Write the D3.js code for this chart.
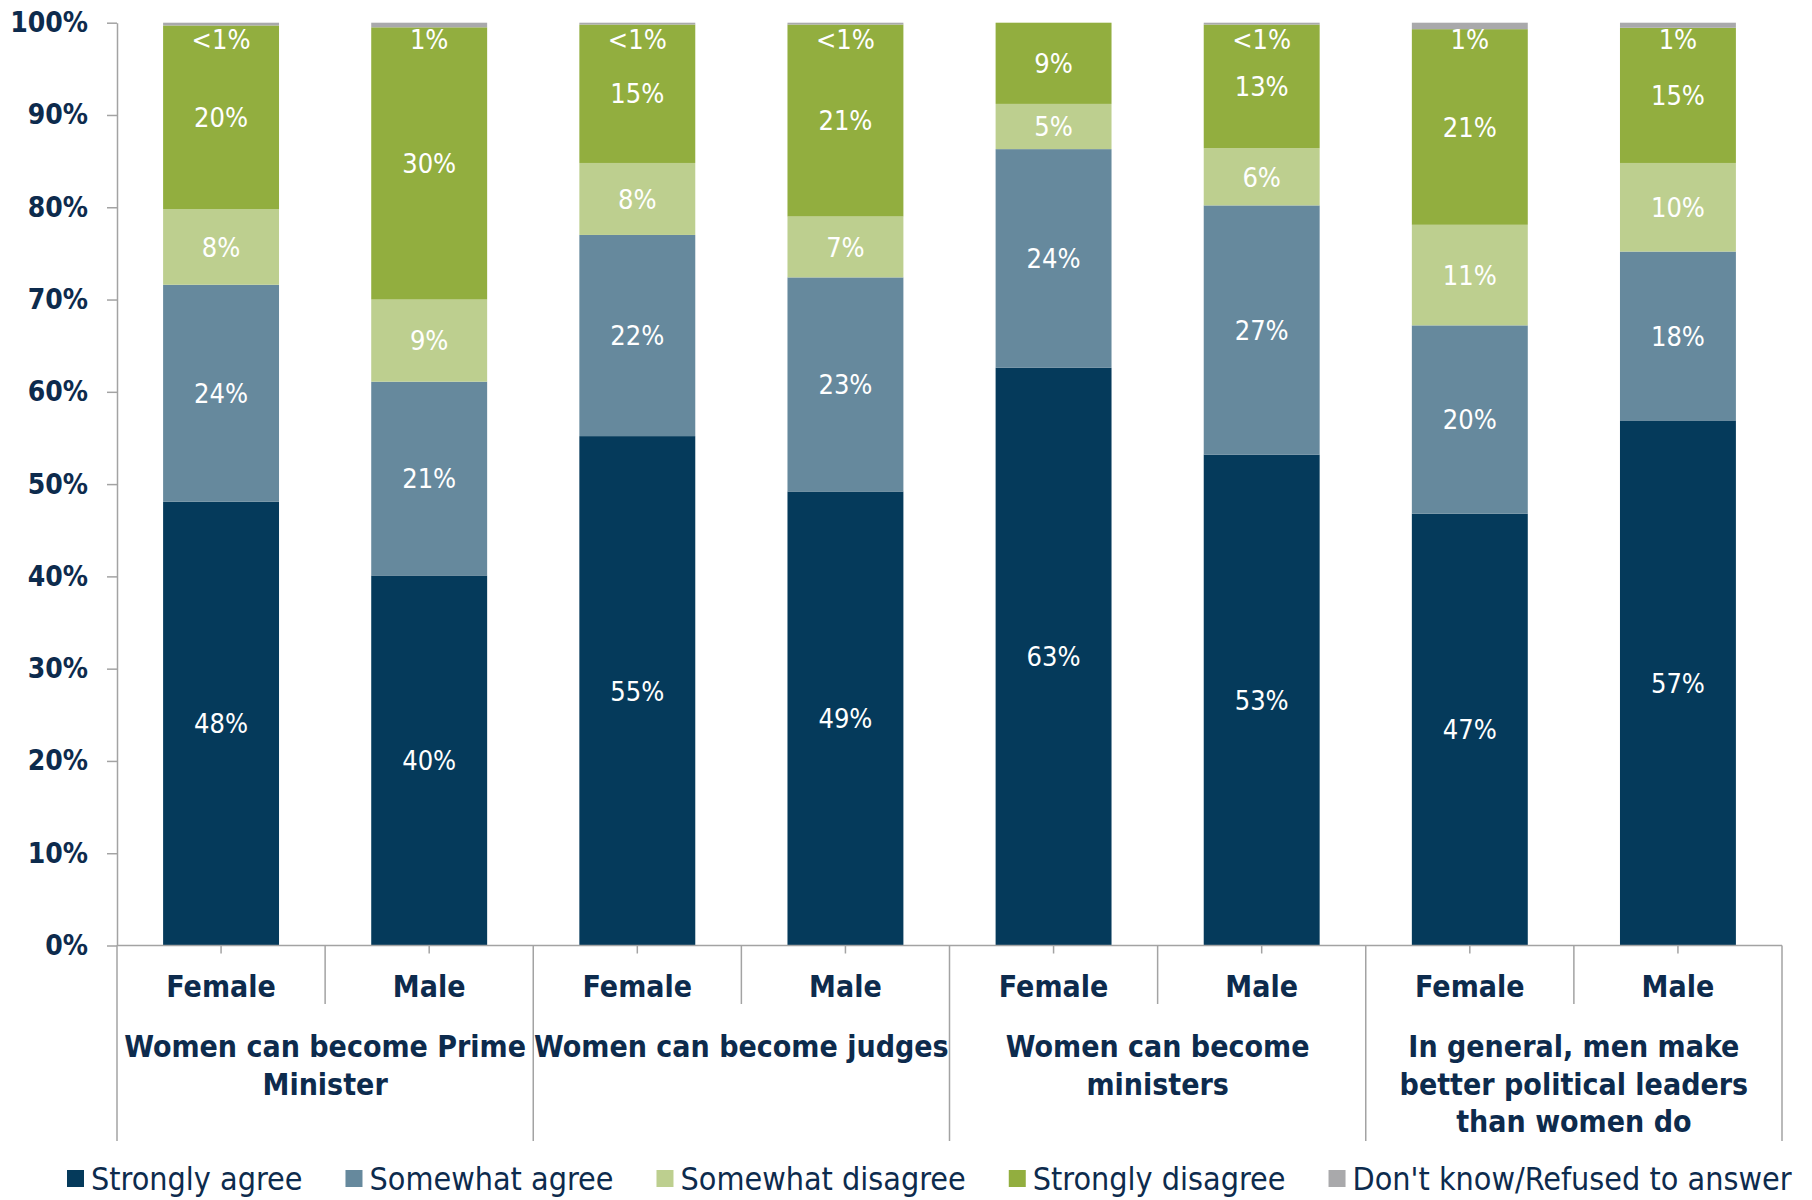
<!DOCTYPE html>
<html>
<head>
<meta charset="utf-8">
<script src="https://cdn.jsdelivr.net/npm/d3@7"></script>
<style>
  html, body { margin: 0; padding: 0; background: #ffffff; }
  svg { display: block; }
  text { font-family: 'DejaVu Sans Condensed', 'DejaVu Sans', sans-serif; font-stretch: condensed; }
</style>
</head>
<body>
<svg id="chart" width="1812" height="1200"></svg>
<script>
// ---------- DATA ----------
const groupLabels = [
  ["Women can become Prime", "Minister"],
  ["Women can become judges"],
  ["Women can become", "ministers"],
  ["In general, men make", "better political leaders", "than women do"]
];
const genders = ["Female", "Male"];
const seriesNames = ["Strongly agree", "Somewhat agree", "Somewhat disagree", "Strongly disagree", "Don't know/Refused to answer"];
const stronglyAgree    = [48.1, 40.1, 55.2, 49.2, 62.6, 53.2, 46.8, 56.9];
const somewhatAgree    = [23.5, 21.0, 21.8, 23.2, 23.7, 27.0, 20.4, 18.3];
const somewhatDisagree = [8.2, 8.9, 7.8, 6.6, 4.9, 6.2, 10.9, 9.6];
const stronglyDisagree = [19.9, 29.5, 15.0, 20.8, 8.8, 13.4, 21.2, 14.65];
const dontKnow         = [0.3, 0.5, 0.2, 0.2, 0, 0.2, 0.7, 0.55];
const yTicks = [0, 10, 20, 30, 40, 50, 60, 70, 80, 90, 100];

// ---------- STYLE ----------
const colors = ["#053A5B", "#66899D", "#BDCF8F", "#92AE3F", "#A9A9AB"];
const textColor = "#0D2B4D";
const axisColor = "#A3A3A3";

const svg = d3.select("#chart");
const plotLeft = 117, plotRight = 1782, plotTop = 22.7, plotBottom = 945.5;

// build rows
const keys = ["sa", "swa", "swd", "sd", "dk"];
const rows = [];
groupLabels.forEach((g, gi) => {
  genders.forEach((gen, ci) => {
    const i = gi * 2 + ci;
    rows.push({ id: i, group: gi, gender: gen,
      sa: stronglyAgree[i], swa: somewhatAgree[i], swd: somewhatDisagree[i],
      sd: stronglyDisagree[i], dk: dontKnow[i] });
  });
});

const x = d3.scaleBand().domain(rows.map(d => d.id)).range([plotLeft, plotRight])
  .paddingInner(0.443).paddingOuter(0.2215);
const xSlot = d3.scaleBand().domain(rows.map(d => d.id)).range([plotLeft, plotRight]).padding(0);
const xGroup = d3.scaleBand().domain(d3.range(groupLabels.length)).range([plotLeft, plotRight]).padding(0);
const y = d3.scaleLinear().domain([0, 100]).range([plotBottom, plotTop]);

const stacked = d3.stack().keys(keys)(rows);

// bars
const layers = svg.append("g").selectAll("g.layer").data(stacked).join("g")
  .attr("class", "layer")
  .attr("fill", (d, i) => colors[i]);
layers.selectAll("rect").data(d => d).join("rect")
  .attr("x", d => x(d.data.id))
  .attr("width", x.bandwidth())
  .attr("y", d => y(d[1]))
  .attr("height", d => Math.max(0, y(d[0]) - y(d[1])));

// data labels
const fmt = v => v === 0 ? "" : (v < 0.5 ? "<1%" : Math.round(v) + "%");
const lbl = svg.append("g");
stacked.forEach((layer, li) => {
  layer.forEach(d => {
    const v = d.data[keys[li]];
    const t = fmt(v);
    if (!t) return;
    const cy = li === 4 ? y(100) + 17 : (y(d[0]) + y(d[1])) / 2;
    lbl.append("text")
      .attr("x", x(d.data.id) + x.bandwidth() / 2)
      .attr("y", cy)
      .attr("dy", "0.36em")
      .attr("text-anchor", "middle")
      .attr("fill", "#ffffff")
      .style("font-size", "27px")
      .text(t);
  });
});

// y axis
const yAxis = svg.append("g").attr("transform", `translate(${plotLeft},0)`)
  .call(d3.axisLeft(y).tickValues(yTicks).tickFormat(d => d + "%")
    .tickSize(10).tickSizeOuter(0).tickPadding(19));
yAxis.select(".domain").attr("stroke", axisColor).attr("stroke-width", 1.5);
yAxis.selectAll(".tick line").attr("stroke", axisColor).attr("stroke-width", 1.5);
yAxis.selectAll(".tick text")
  .attr("fill", textColor)
  .style("font-size", "28px")
  .style("font-weight", "bold")
  .style("font-family", "'DejaVu Sans Condensed', 'DejaVu Sans', sans-serif");

// x axis line
const xa = svg.append("g").attr("stroke", axisColor).attr("stroke-width", 1.5);
xa.append("line").attr("x1", plotLeft).attr("x2", plotRight).attr("y1", plotBottom).attr("y2", plotBottom);
rows.forEach(d => {
  const cx = x(d.id) + x.bandwidth() / 2;
  xa.append("line").attr("x1", cx).attr("x2", cx).attr("y1", plotBottom).attr("y2", plotBottom + 8);
});
rows.forEach(d => {
  if (d.id % 2 === 1) {
    const sx = xSlot(d.id);
    xa.append("line").attr("x1", sx).attr("x2", sx).attr("y1", plotBottom).attr("y2", 1004);
  }
});
d3.range(groupLabels.length + 1).forEach(k => {
  const gx = k < groupLabels.length ? xGroup(k) : plotRight;
  xa.append("line").attr("x1", gx).attr("x2", gx).attr("y1", plotBottom).attr("y2", 1141);
});

// category labels
svg.append("g").selectAll("text").data(rows).join("text")
  .attr("x", d => x(d.id) + x.bandwidth() / 2)
  .attr("y", 997)
  .attr("text-anchor", "middle")
  .attr("fill", textColor)
  .style("font-size", "30px")
  .style("font-weight", "bold")
  .text(d => d.gender);

// group labels
const gl = svg.append("g");
groupLabels.forEach((lines, gi) => {
  const cx = xGroup(gi) + xGroup.bandwidth() / 2;
  const t = gl.append("text")
    .attr("x", cx)
    .attr("y", 1057)
    .attr("text-anchor", "middle")
    .attr("fill", textColor)
    .style("font-size", "30px")
    .style("font-weight", "bold");
  lines.forEach((ln, li) => {
    t.append("tspan").attr("x", cx).attr("dy", li === 0 ? 0 : 37.7).text(ln);
  });
});

// legend
const leg = svg.append("g");
let lx = 67;
const ly = 1178;
seriesNames.forEach((name, i) => {
  leg.append("rect").attr("x", lx).attr("y", ly - 8).attr("width", 17).attr("height", 17)
    .attr("fill", colors[i]);
  const t = leg.append("text").attr("x", lx + 24).attr("y", ly).attr("dy", "0.36em")
    .attr("fill", textColor).style("font-size", "32px").text(name);
  lx = lx + 24 + t.node().getComputedTextLength() + 43;
});
</script>
</body>
</html>
